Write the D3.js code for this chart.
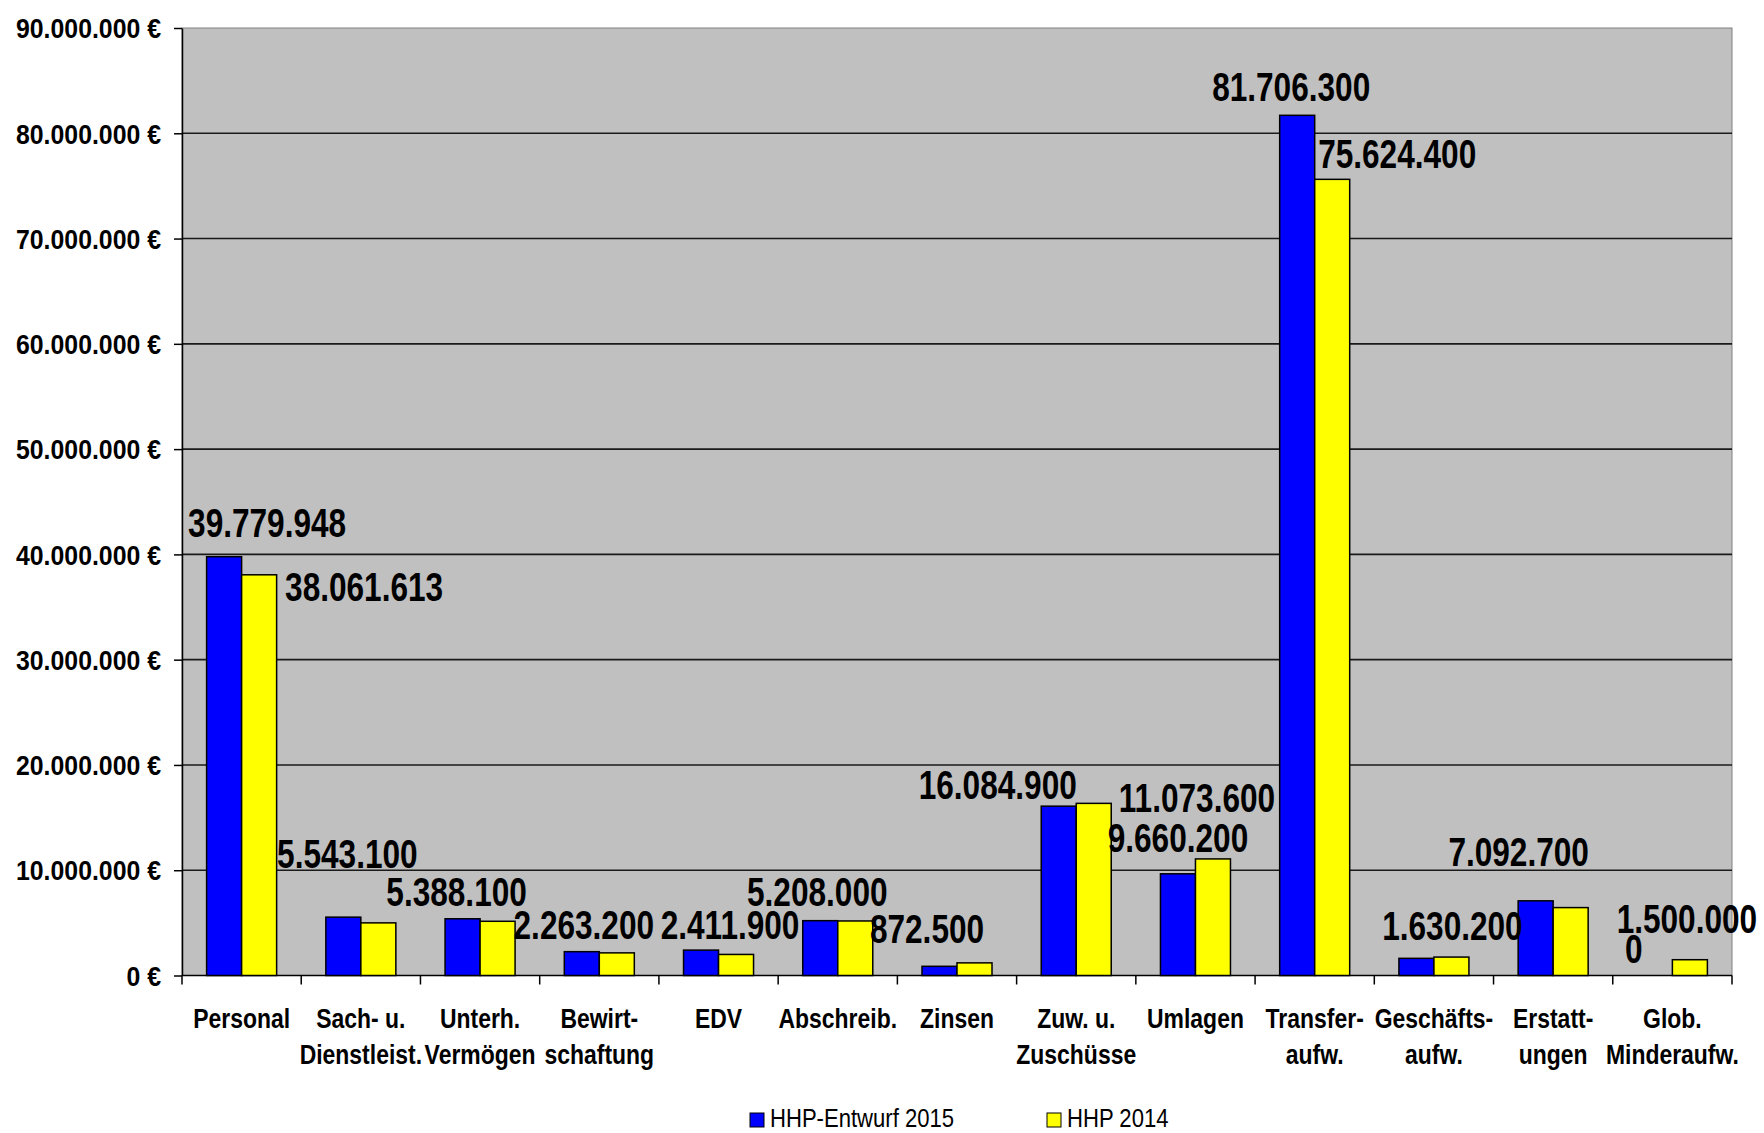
<!DOCTYPE html>
<html>
<head>
<meta charset="utf-8">
<script src="https://cdn.jsdelivr.net/npm/d3@7"></script>
<style>
  html, body { margin: 0; padding: 0; background: #fff; }
  svg { display: block; }
  text { font-family: "Liberation Sans", Arial, Helvetica, sans-serif; fill: #000; }
</style>
</head>
<body>
<svg id="chart" width="1764" height="1133"></svg>
<script>
// ---------- data ----------
const categories = ["Personal", "Sach- u. Dienstleist.", "Unterh. Vermögen", "Bewirt- schaftung", "EDV",
  "Abschreib.", "Zinsen", "Zuw. u. Zuschüsse", "Umlagen", "Transfer- aufw.", "Geschäfts- aufw.",
  "Erstatt- ungen", "Glob. Minderaufw."];
const categoryLines = [["Personal"], ["Sach- u.", "Dienstleist."], ["Unterh.", "Vermögen"], ["Bewirt-", "schaftung"],
  ["EDV"], ["Abschreib."], ["Zinsen"], ["Zuw. u.", "Zuschüsse"], ["Umlagen"], ["Transfer-", "aufw."],
  ["Geschäfts-", "aufw."], ["Erstatt-", "ungen"], ["Glob.", "Minderaufw."]];
const seriesNames = ["HHP-Entwurf 2015", "HHP 2014"];
const hhp2015 = [39779948, 5543100, 5388100, 2263200, 2411900, 5208000, 872500, 16084900, 9660200, 81706300, 1630200, 7092700, 0];
const hhp2014 = [38061613, 5000000, 5150000, 2150000, 2000000, 5180000, 1200000, 16350000, 11073600, 75624400, 1750000, 6450000, 1500000];
const yTickValues = [0, 10000000, 20000000, 30000000, 40000000, 50000000, 60000000, 70000000, 80000000, 90000000];
// which bars carry a visible value label (category index, series index)
const labelledBars = [[0,0],[0,1],[1,0],[2,0],[3,0],[4,0],[5,0],[6,0],[7,0],[8,1],[8,0],[9,0],[9,1],[10,0],[11,0],[12,1],[12,0]];

// ---------- layout (manual label nudges, like the dragged labels of the original) ----------
const labelNudge = [[43,-19.5],[105,26],[4,-49],[-6,-13],[2,-13],[29,-11],[-3,-14.5],[-12.5,-23],[-61,-7],
  [-16,-47],[0,-21.5],[-6,-14],[65,-11],[36,-18],[-17,-35],[-3,-27],[-21,-12.5]];
const colors = ["#0000FF", "#FFFF00"];
const plot = {left: 182, right: 1732, top: 28, bottom: 975.5};

const svg = d3.select("#chart");
const values = [hhp2015, hhp2014];

const x = d3.scaleBand().domain(categories).range([plot.left, plot.right]).paddingInner(0).paddingOuter(0);
const xs = d3.scaleBand().domain([0, 1]).range([0, x.bandwidth()]).paddingInner(0).paddingOuter(0.703);
const y = d3.scaleLinear().domain([0, 90000000]).range([plot.bottom, plot.top]);

const de = d3.formatLocale({decimal: ",", thousands: ".", grouping: [3], currency: ["", " €"]});
const fmtNum = de.format(",.0f");
const fmtEur = v => fmtNum(v) + " €";

// plot background
svg.append("rect")
  .attr("x", plot.left).attr("y", plot.top)
  .attr("width", plot.right - plot.left).attr("height", plot.bottom - plot.top)
  .attr("fill", "#C0C0C0").attr("stroke", "#808080").attr("stroke-width", 1);

// gridlines
svg.append("g").selectAll("line").data(yTickValues.filter(d => d > 0 && d < 90000000)).join("line")
  .attr("x1", plot.left).attr("x2", plot.right)
  .attr("y1", d => y(d)).attr("y2", d => y(d))
  .attr("stroke", "#1a1a1a").attr("stroke-width", 1.6);

// y axis
const yAxis = svg.append("g").attr("transform", `translate(${plot.left},0)`)
  .call(d3.axisLeft(y).tickValues(yTickValues).tickSize(8).tickSizeOuter(0).tickFormat(fmtEur));
yAxis.select(".domain").attr("stroke", "#000").attr("stroke-width", 1.5);
yAxis.selectAll(".tick line").attr("stroke", "#000").attr("stroke-width", 1.5);
yAxis.selectAll(".tick text")
  .attr("x", null).attr("dy", "0.36em")
  .attr("transform", "translate(-21,0) scale(0.92,1)")
  .attr("font-size", 27).attr("font-weight", "bold")
  .style("font-family", "'Liberation Sans', Arial, sans-serif");

// x axis baseline + ticks at band boundaries
const xg = svg.append("g");
xg.append("line").attr("x1", plot.left).attr("x2", plot.right)
  .attr("y1", y(0)).attr("y2", y(0)).attr("stroke", "#000").attr("stroke-width", 1.5);
const bounds = categories.map(c => x(c)).concat([x(categories[categories.length - 1]) + x.bandwidth()]);
xg.selectAll("line.tick").data(bounds).join("line").attr("class", "tick")
  .attr("x1", d => d).attr("x2", d => d)
  .attr("y1", y(0)).attr("y2", y(0) + 9)
  .attr("stroke", "#000").attr("stroke-width", 1.5);

// category labels
const catG = svg.append("g");
categories.forEach((c, i) => {
  const t = catG.append("text")
    .attr("transform", `translate(${x(c) + x.bandwidth() / 2},0) scale(0.85,1)`)
    .attr("text-anchor", "middle").attr("font-size", 27).attr("font-weight", "bold");
  categoryLines[i].forEach((line, k) => {
    t.append("tspan").attr("x", 0).attr("y", 1028 + k * 36).text(line);
  });
});

// bars
const barG = svg.append("g");
values.forEach((arr, s) => {
  barG.selectAll(null).data(arr).join("rect")
    .attr("x", (d, i) => x(categories[i]) + xs(s))
    .attr("y", d => y(d))
    .attr("width", xs.bandwidth())
    .attr("height", d => y(0) - y(d))
    .attr("fill", colors[s])
    .attr("stroke", "#000").attr("stroke-width", d => d > 0 ? 1.5 : 0);
});

// value labels
const lblG = svg.append("g");
labelledBars.forEach(([ci, s], k) => {
  const v = values[s][ci];
  const cx = x(categories[ci]) + xs(s) + xs.bandwidth() / 2 + labelNudge[k][0];
  const cy = y(v) + labelNudge[k][1];
  lblG.append("text")
    .attr("transform", `translate(${cx},${cy}) scale(0.79,1)`)
    .attr("text-anchor", "middle").attr("font-size", 40).attr("font-weight", "bold")
    .text(fmtNum(v));
});

// legend
const legendPos = [750, 1047];
const lg = svg.append("g");
seriesNames.forEach((name, s) => {
  lg.append("rect").attr("x", legendPos[s]).attr("y", 1113).attr("width", 14).attr("height", 14)
    .attr("fill", colors[s]).attr("stroke", "#000").attr("stroke-width", 1);
  lg.append("text").attr("transform", `translate(${legendPos[s] + 20},1127) scale(0.85,1)`)
    .attr("font-size", 26).text(name);
});
</script>
</body>
</html>
